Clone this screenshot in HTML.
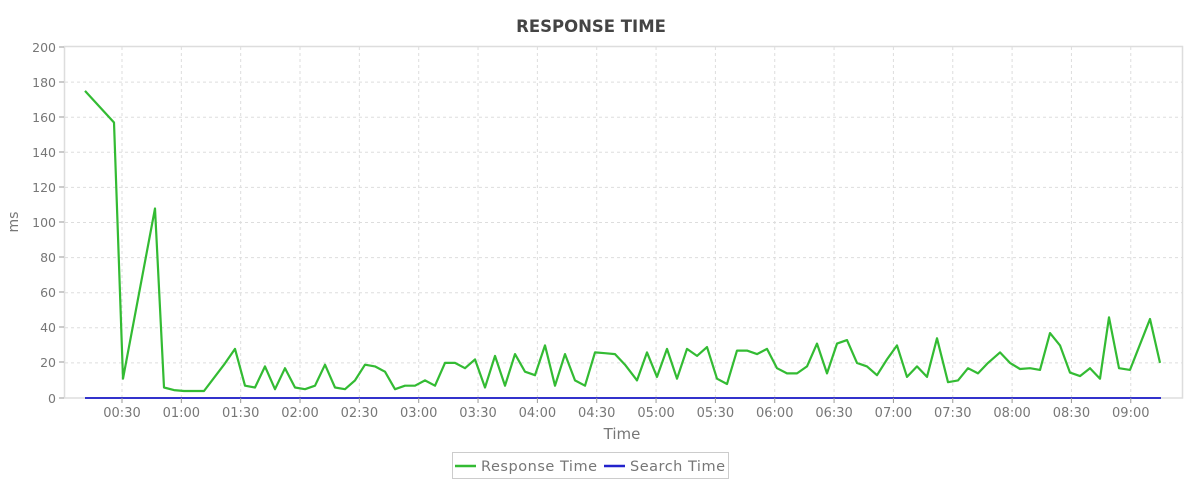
<!DOCTYPE html>
<html><head><meta charset="utf-8"><style>
html,body{margin:0;padding:0;background:#fff;}
svg text{font-family:"DejaVu Sans","Liberation Sans",sans-serif;}
</style></head><body>
<svg width="1200" height="494" viewBox="0 0 1200 494" xmlns="http://www.w3.org/2000/svg">
<rect x="0" y="0" width="1200" height="494" fill="#fff"/>
<text x="591" y="32" text-anchor="middle" font-size="16.5" font-weight="bold" fill="#444">RESPONSE TIME</text>
<rect x="64.5" y="46.5" width="1118" height="351.5" fill="none" stroke="#ddd" stroke-width="1.5"/>
<g stroke="#ddd" stroke-width="1" stroke-dasharray="3,3" fill="none">
<line x1="65" x2="1182" y1="82.1" y2="82.1"/><line x1="65" x2="1182" y1="117.2" y2="117.2"/>
<line x1="65" x2="1182" y1="152.3" y2="152.3"/><line x1="65" x2="1182" y1="187.4" y2="187.4"/>
<line x1="65" x2="1182" y1="222.5" y2="222.5"/><line x1="65" x2="1182" y1="257.6" y2="257.6"/>
<line x1="65" x2="1182" y1="292.7" y2="292.7"/><line x1="65" x2="1182" y1="327.8" y2="327.8"/>
<line x1="65" x2="1182" y1="362.9" y2="362.9"/>
</g>
<g id="grid" stroke="#ddd" stroke-width="1" stroke-dasharray="3,3"></g>
<g font-size="12.5" fill="#777" text-anchor="end">
<text x="56" y="52">200</text><text x="56" y="87">180</text><text x="56" y="122">160</text>
<text x="56" y="157">140</text><text x="56" y="192">120</text><text x="56" y="227">100</text>
<text x="56" y="262">80</text><text x="56" y="297">60</text><text x="56" y="332">40</text>
<text x="56" y="367">20</text><text x="56" y="403">0</text>
</g>
<g stroke="#999" stroke-width="1">
<line x1="59" x2="64" y1="47" y2="47"/><line x1="59" x2="64" y1="82" y2="82"/><line x1="59" x2="64" y1="117" y2="117"/>
<line x1="59" x2="64" y1="152" y2="152"/><line x1="59" x2="64" y1="187" y2="187"/><line x1="59" x2="64" y1="222" y2="222"/>
<line x1="59" x2="64" y1="257" y2="257"/><line x1="59" x2="64" y1="292" y2="292"/><line x1="59" x2="64" y1="327" y2="327"/>
<line x1="59" x2="64" y1="362" y2="362"/><line x1="59" x2="64" y1="398" y2="398"/>
</g>
<g id="xl" font-size="13" fill="#777" text-anchor="middle"></g>
<text x="622" y="439" text-anchor="middle" font-size="15" fill="#777">Time</text>
<text x="18" y="222" text-anchor="middle" font-size="14" fill="#777" transform="rotate(-90 18 222)">ms</text>
<line x1="85" x2="1161" y1="398" y2="398" stroke="#3333cc" stroke-width="2"/>
<polyline id="rt" fill="none" stroke="#33bb33" stroke-width="2.2" stroke-linejoin="round"/>
<rect x="452.5" y="452.5" width="276" height="26" fill="#fff" stroke="#ccc"/>
<line x1="455" x2="476" y1="466" y2="466" stroke="#33bb33" stroke-width="2.5"/>
<text x="481" y="471" font-size="14.5" fill="#777" textLength="116">Response Time</text>
<line x1="604" x2="625" y1="466" y2="466" stroke="#2222cc" stroke-width="2.5"/>
<text x="630" y="471" font-size="14.5" fill="#777" textLength="95">Search Time</text>
</svg>
<script>
var ns="http://www.w3.org/2000/svg";
var svg=document.querySelector('svg');
var g=document.getElementById('grid'),xl=document.getElementById('xl');
for(var i=0;i<18;i++){var x=122+i*59.34;var h=Math.floor((i+1)/2),m=((i+1)%2)?"30":"00";
var l=document.createElementNS(ns,'line');l.setAttribute('x1',x);l.setAttribute('x2',x);l.setAttribute('y1',47);l.setAttribute('y2',398);g.appendChild(l);
var t=document.createElementNS(ns,'line');t.setAttribute('x1',x);t.setAttribute('x2',x);t.setAttribute('y1',398);t.setAttribute('y2',403);t.setAttribute('stroke','#999');svg.appendChild(t);
var tx=document.createElementNS(ns,'text');tx.setAttribute('x',x);tx.setAttribute('y',417);tx.textContent=("0"+h).slice(-2)+":"+m;xl.appendChild(tx);}
var d=[85,175,114,157,123,11,155,108,164,6,174,4.5,184,4,194,4,204,4,224,19,235,28,245,7,255,6,265,18,275,5,285,17,295,6,305,5,315,7,325,19,335,6,345,5,355,10,365,19,375,18,385,15,395,5,405,7,415,7,425,10,435,7,445,20,455,20,465,17,475,22,485,6,495,24,505,7,515,25,525,15,535,13,545,30,555,7,565,25,575,10,585,7,595,26,605,25.5,615,25,625,19,637,10,647,26,657,12,667,28,677,11,687,28,697,24,707,29,717,11,727,8,737,27,747,27,757,25,767,28,777,17,787,14,797,14,807,18,817,31,827,14,837,31,847,33,857,20,867,18,877,13,887,22,897,30,907,12,917,18,927,12,937,34,948,9,958,10,968,17,978,14,988,20,1000,26,1010,20,1020,16.5,1030,17,1040,16,1050,37,1060,30,1070,14.5,1080,12.5,1090,17,1100,11,1109,46,1119,17,1130,16,1150,45,1160,20];
var p=[];for(var j=0;j<d.length;j+=2)p.push(d[j]+","+(398-d[j+1]*1.755).toFixed(1));
document.getElementById('rt').setAttribute('points',p.join(' '));
</script>
</body></html>
